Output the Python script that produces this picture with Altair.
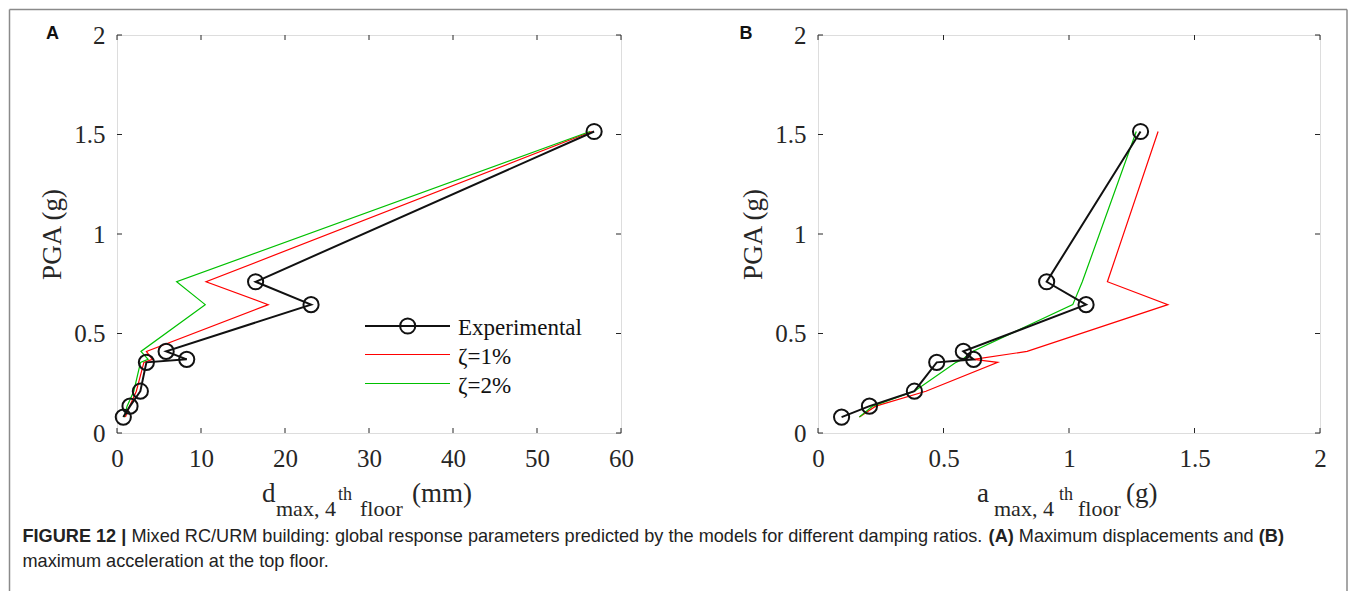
import altair as alt
import pandas as pd

# ---------------- data ----------------
pga = [0.08, 0.135, 0.21, 0.355, 0.37, 0.41, 0.645, 0.76, 1.515]

disp_exp = [0.75, 1.55, 2.78, 3.5, 8.3, 5.85, 23.1, 16.5, 56.8]
disp_z1 = [1.0, 1.5, 2.3, 3.2, 4.2, 3.5, 18.0, 10.6, 56.5]
disp_z2 = [0.85, 1.2, 2.0, 2.8, 3.7, 2.85, 10.5, 7.1, 56.3]

acc_exp = [0.094, 0.205, 0.384, 0.473, 0.62, 0.579, 1.068, 0.911, 1.285]
acc_z1 = [0.165, 0.23, 0.43, 0.716, 0.62, 0.833, 1.394, 1.153, 1.355]
acc_z2 = [0.165, 0.218, 0.384, 0.55, 0.575, 0.616, 1.015, 1.053, 1.268]

series_names = ["Experimental", "ζ=1%", "ζ=2%"]
series_colors = ["#111111", "#ff0000", "#00c000"]

disp_ticks = [0, 10, 20, 30, 40, 50, 60]
acc_ticks = [0, 0.5, 1, 1.5, 2]
pga_ticks = [0, 0.5, 1, 1.5, 2]

caption_line1 = [
    ("FIGURE 12 |", "bold"),
    ("Mixed RC/URM building: global response parameters predicted by the models for different damping ratios.", "normal"),
    ("(A)", "bold"),
    ("Maximum displacements and", "normal"),
    ("(B)", "bold"),
]
caption_line2 = "maximum acceleration at the top floor."

# ---------------- layout constants ----------------
W_A, W_B, H = 504, 502, 398
SERIF = "Liberation Serif"
SANS = "Liberation Sans"
INK = "#262626"
TICK = 5

# approximate Liberation Sans advance widths (per em) for laying out the caption pieces
_REG = {" ": .278, "(": .333, ")": .333, ",": .278, ".": .278, "/": .278, ":": .278,
        "|": .26, "C": .722, "F": .611, "G": .778, "I": .278, "M": .833, "R": .722,
        "U": .722, "E": .667, "A": .667, "B": .667,
        "a": .556, "b": .556, "c": .5, "d": .556, "e": .556, "f": .278, "g": .556,
        "h": .556, "i": .222, "j": .222, "k": .5, "l": .222, "m": .833, "n": .556,
        "o": .556, "p": .556, "q": .556, "r": .333, "s": .5, "t": .278, "u": .556,
        "v": .5, "w": .722, "x": .5, "y": .5, "z": .5}
_BOLD = {" ": .278, "(": .333, ")": .333, "|": .28, "A": .722, "B": .722, "E": .667,
         "F": .611, "G": .778, "I": .278, "R": .722, "U": .722}


def text_em(s, weight):
    table = _BOLD if weight == "bold" else _REG
    return sum(table.get(ch, .556) for ch in s)


def txt(s, x, y, size, font=SERIF, weight="normal", align="left",
        baseline="alphabetic", color=INK):
    return alt.Chart(pd.DataFrame({"t": [s]})).mark_text(
        align=align, baseline=baseline, font=font, fontSize=size,
        fontWeight=weight, color=color
    ).encode(x=alt.value(x), y=alt.value(y), text="t:N")


def panel(xvals, xticks, xdomain, xfmt, W, letter, letter_x, title_parts, legend=False,
          extras=None):
    rows = []
    for name, xs in zip(series_names, xvals):
        for i, (xv, yv) in enumerate(zip(xs, pga)):
            rows.append({"series": name, "x": xv, "pga": yv, "order": i})
    df = pd.DataFrame(rows)

    xscale = alt.Scale(domain=xdomain, nice=False, zero=False)
    yscale = alt.Scale(domain=[0, 2], nice=False, zero=False)
    ax_x = alt.Axis(values=xticks, format=xfmt, title=None, domain=False, ticks=False,
                    grid=False, labelFont=SERIF, labelFontSize=25, labelColor=INK,
                    labelPadding=13, labelFlush=False, labelOverlap=False)
    ax_y = alt.Axis(values=pga_ticks, format="~g", title="PGA (g)", domain=False,
                    ticks=False, grid=False, labelFont=SERIF, labelFontSize=25,
                    labelColor=INK, labelPadding=12, labelFlush=False, labelOverlap=False,
                    titleFont=SERIF, titleFontSize=27, titleFontWeight="normal",
                    titleColor=INK, titleAngle=270, titleX=-65, titleY=H / 2,
                    titleAlign="center", titleBaseline="middle")
    X = alt.X("x:Q", scale=xscale, axis=ax_x)
    Y = alt.Y("pga:Q", scale=yscale, axis=ax_y)

    base = alt.Chart(df)
    models = base.transform_filter(alt.datum.series != "Experimental").mark_line(
        strokeWidth=1.2
    ).encode(
        x=X, y=Y, order="order:Q", detail="series:N",
        color=alt.Color("series:N", scale=alt.Scale(domain=series_names, range=series_colors),
                        legend=None),
    )
    exp_line = base.transform_filter(alt.datum.series == "Experimental").mark_line(
        strokeWidth=2, color=series_colors[0]
    ).encode(x=X, y=Y, order="order:Q")
    exp_pts = base.transform_filter(alt.datum.series == "Experimental").mark_point(
        shape="circle", size=230, filled=False, strokeWidth=2, color=series_colors[0], opacity=1
    ).encode(x=X, y=Y)

    xt = pd.DataFrame({"x": xticks})
    yt = pd.DataFrame({"pga": pga_ticks})
    tick_style = dict(color=INK, strokeWidth=1)
    xt_bot = alt.Chart(xt).mark_rule(**tick_style).encode(
        x=X, y=alt.value(H), y2=alt.value(H - TICK))
    xt_top = alt.Chart(xt).mark_rule(**tick_style).encode(
        x=X, y=alt.value(0), y2=alt.value(TICK))
    yt_left = alt.Chart(yt).mark_rule(**tick_style).encode(
        y=Y, x=alt.value(0), x2=alt.value(TICK))
    yt_right = alt.Chart(yt).mark_rule(**tick_style).encode(
        y=Y, x=alt.value(W), x2=alt.value(W - TICK))

    layers = [models, exp_line, exp_pts, xt_bot, xt_top, yt_left, yt_right]

    # x-axis title with sub/superscripts
    for s, x, y, size in title_parts:
        layers.append(txt(s, x, y, size))

    # panel letter
    layers.append(txt(letter, letter_x, -1.5, 18, font=SANS, weight="bold",
                      align="center", baseline="middle", color="#111111"))

    if legend:
        rows_y = [291, 319.5, 348.5]
        for name, col, ry in zip(series_names, series_colors, rows_y):
            sw = 2 if name == "Experimental" else 1.2
            layers.append(alt.Chart(pd.DataFrame({"n": [name]})).mark_rule(
                color=col, strokeWidth=sw).encode(
                x=alt.value(248), x2=alt.value(333), y=alt.value(ry)))
            layers.append(txt(name, 341, ry + 2, 23, baseline="middle", color="#111111"))
        layers.append(alt.Chart(pd.DataFrame({"n": [series_names[0]]})).mark_point(
            shape="circle", size=230, filled=False, strokeWidth=2, color=series_colors[0],
            opacity=1).encode(x=alt.value(290.7), y=alt.value(rows_y[0])))

    if extras:
        layers.extend(extras)

    return alt.layer(*layers).properties(width=W, height=H)


# outer frame (left, top, right edges) and caption, placed relative to panel A
frame_col = "#8a8a8a"
fx0, fy0, fx1, fy1 = -107.5, -25.5, 1230.0, 556
frame = [
    alt.Chart(pd.DataFrame({"e": ["l"]})).mark_rule(color=frame_col, strokeWidth=1.5).encode(
        x=alt.value(fx0), y=alt.value(fy0), y2=alt.value(fy1)),
    alt.Chart(pd.DataFrame({"e": ["t"]})).mark_rule(color=frame_col, strokeWidth=1.5).encode(
        x=alt.value(fx0), x2=alt.value(fx1), y=alt.value(fy0)),
    alt.Chart(pd.DataFrame({"e": ["r"]})).mark_rule(color=frame_col, strokeWidth=1.5).encode(
        x=alt.value(fx1), y=alt.value(fy0), y2=alt.value(fy1)),
]

# caption: pieces laid out one after another so line 1 spans the reference width
cap_left, cap_right = -94.5, 1167.0
gap_em = 0.278
total_em = sum(text_em(s, w) for s, w in caption_line1) + gap_em * (len(caption_line1) - 1)
cap_fs = (cap_right - cap_left) / total_em
caption = []
cx = cap_left
for s, w in caption_line1:
    caption.append(txt(s, cx, 502, cap_fs, font=SANS, weight=w, baseline="middle",
                       color="#222222"))
    cx += (text_em(s, w) + gap_em) * cap_fs
caption.append(txt(caption_line2, cap_left, 527, cap_fs, font=SANS, baseline="middle",
                   color="#222222"))

title_A = [("d", 145, 467, 27), ("max, 4", 159, 481, 22), ("th", 221, 465, 18),
           ("floor", 243, 481, 22), ("(mm)", 295, 467, 27)]
title_B = [("a", 159, 467, 27), ("max, 4", 176, 481, 22), ("th", 241, 465, 18),
           ("floor", 260, 481, 22), ("(g)", 308, 467, 27)]

panelA = panel([disp_exp, disp_z1, disp_z2], disp_ticks, [0, 60], "d", W_A, "A", -64.5,
               title_A, legend=True, extras=frame + caption)
panelB = panel([acc_exp, acc_z1, acc_z2], acc_ticks, [0, 2], "~g", W_B, "B", -72, title_B)

chart = alt.hconcat(panelA, panelB, spacing=197, bounds="flush").properties(
    padding=0
).configure_view(stroke=INK, strokeWidth=1).configure(background="white")

chart.save("out.html", embed_options={"renderer": "svg", "actions": False})
